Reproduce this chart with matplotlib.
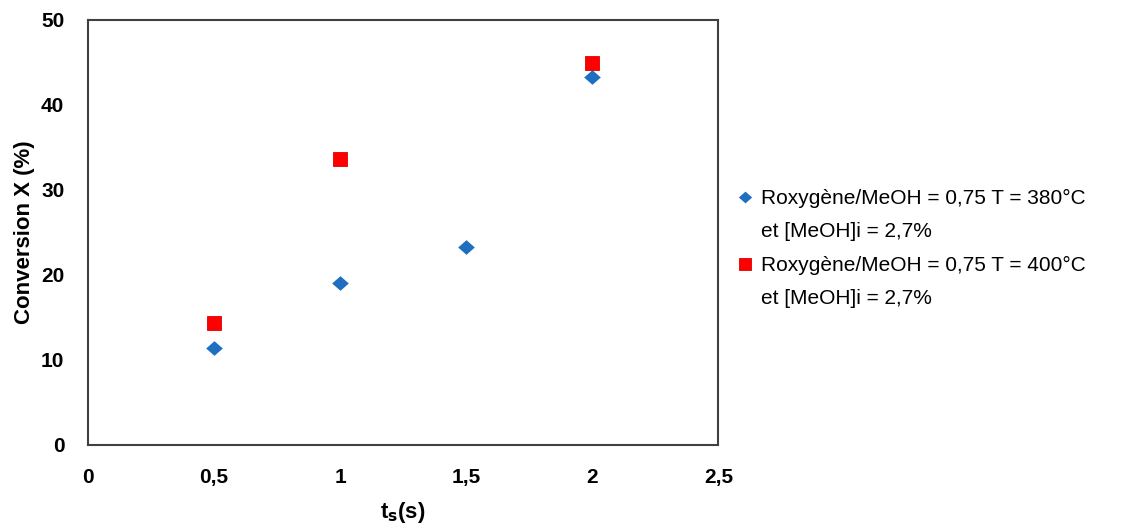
import matplotlib
matplotlib.use("Agg")
import matplotlib.pyplot as plt
from matplotlib.lines import Line2D

# temps de séjour (s) et conversion (%)
ts_380 = [0.5, 1.0, 1.5, 2.0]
conv_380 = [11.4, 19.1, 23.3, 43.3]
ts_400 = [0.5, 1.0, 2.0]
conv_400 = [14.35, 33.6, 44.9]

label_380 = ["Roxygène/MeOH = 0,75 T = 380°C", "et [MeOH]i = 2,7%"]
label_400 = ["Roxygène/MeOH = 0,75 T = 400°C", "et [MeOH]i = 2,7%"]

x_ticks = [0, 0.5, 1, 1.5, 2, 2.5]
x_ticklabels = ["0", "0,5", "1", "1,5", "2", "2,5"]
y_ticks = [0, 10, 20, 30, 40, 50]

plt.rcParams['font.family'] = ['Liberation Sans', 'DejaVu Sans']

# slightly flattened diamond, like the excel one
diamond = [(-1, 0), (0, 0.88), (1, 0), (0, -0.88), (-1, 0)]

fig = plt.figure(figsize=(11.42, 5.24), dpi=100)
ax = fig.add_axes([0.077, 0.151, 0.552, 0.811])

h1, = ax.plot(ts_380, conv_380, linestyle='none', marker=diamond, markersize=12,
              color='#1f6fc0', markeredgewidth=0)
h2, = ax.plot(ts_400, conv_400, linestyle='none', marker='s', markersize=10.5,
              color='#ff0000', markeredgecolor='#e00000', markeredgewidth=0.6)

ax.set_xlim(0, 2.5)
ax.set_ylim(0, 50)
ax.set_xticks(x_ticks)
ax.set_xticklabels(x_ticklabels)
ax.set_yticks(y_ticks)
ax.tick_params(length=0, labelsize=15)
ax.tick_params(axis='x', pad=17)
ax.tick_params(axis='y', pad=17)
for lab in ax.get_xticklabels() + ax.get_yticklabels():
    lab.set_fontweight('bold')
for sp in ax.spines.values():
    sp.set_color('#404040')
    sp.set_linewidth(1.5)

ax.set_ylabel("Conversion X (%)", fontsize=16, fontweight='bold', labelpad=4)
ax.set_xlabel("t$_\\mathbf{s}$(s)", fontsize=16, fontweight='bold', labelpad=9)

# second line of each label goes in its own row with no handle
blank = Line2D([], [], linestyle='none', marker=None)
leg = ax.legend([h1, blank, h2, blank], label_380 + label_400,
                loc='center left', bbox_to_anchor=(1.02, 0.462), frameon=False,
                fontsize=15, handlelength=0.55, handletextpad=0.5,
                labelspacing=0.69, borderaxespad=0, markerscale=0.8)

fig.savefig("out.png", dpi=100)
